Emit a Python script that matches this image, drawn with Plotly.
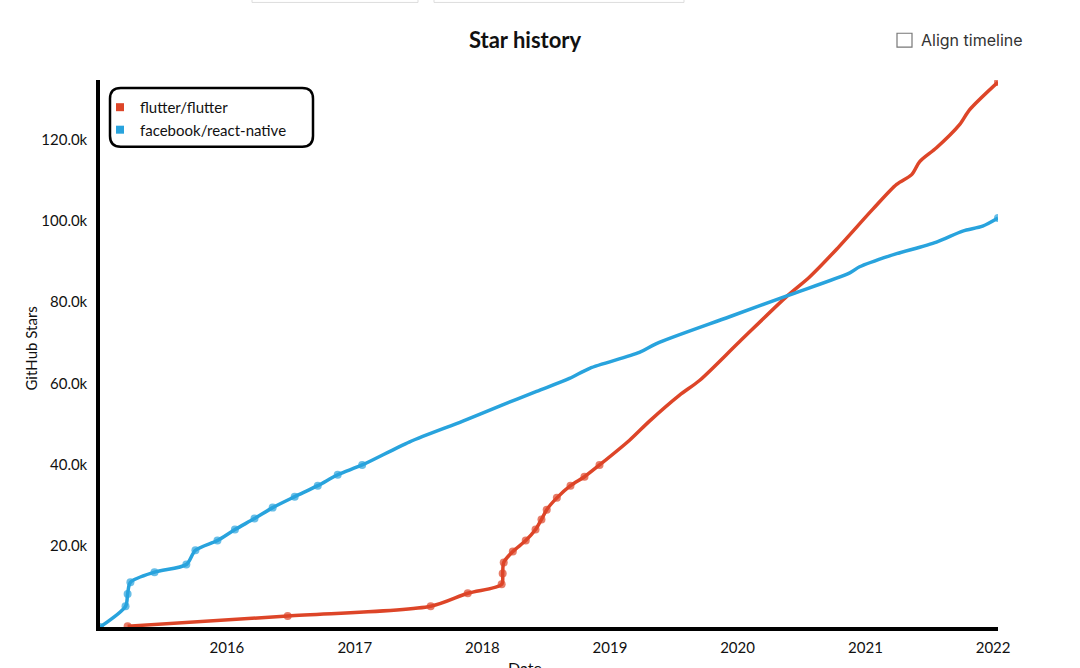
import plotly.graph_objects as go

# ---- data ----
flutter_dates = [
    "2015-03-23", "2016-06-23", "2017-08-06", "2017-11-20", "2018-02-25", "2018-02-28",
    "2018-03-03", "2018-03-29", "2018-05-05", "2018-06-02", "2018-06-19", "2018-07-04",
    "2018-08-02", "2018-09-10", "2018-10-20", "2018-12-02",
    "2019-02-26", "2019-04-24", "2019-07-19", "2019-09-14", "2020-01-07", "2020-05-23",
    "2020-07-25", "2020-10-11", "2021-01-22", "2021-03-31", "2021-05-13", "2021-06-05",
    "2021-07-23", "2021-09-27", "2021-10-26", "2022-01-15",
]
flutter_stars = [
    200, 2700, 5100, 8300, 10500, 13200,
    15900, 18600, 21300, 24000, 26500, 28900,
    31800, 34800, 37000, 39900,
    46000, 50700, 57100, 60700, 70300, 81600,
    86200, 93100, 102900, 109000, 111400, 114600,
    118000, 123700, 127400, 134200,
]

react_native_dates = [
    "2015-01-03", "2015-03-17", "2015-03-23", "2015-03-31", "2015-06-08", "2015-09-07",
    "2015-10-03", "2015-12-05", "2016-01-24", "2016-03-20", "2016-05-11", "2016-07-13",
    "2016-09-17", "2016-11-13", "2017-01-22",
    "2017-06-07", "2017-11-06", "2018-02-19", "2018-06-05", "2018-09-07", "2018-11-04",
    "2019-03-26", "2019-05-14", "2019-12-09", "2020-05-23", "2020-11-17", "2020-12-15",
    "2021-03-11", "2021-07-23", "2021-10-06", "2021-12-02", "2022-01-15",
]
react_native_stars = [
    0, 5100, 8100, 11000, 13500, 15400,
    18900, 21300, 24000, 26700, 29400, 32100,
    34800, 37500, 39900,
    45600, 50700, 54400, 58000, 61200, 63700,
    67600, 69800, 76400, 81600, 87200, 88700,
    91400, 94800, 97500, 98700, 100700,
]

repo_names = ["flutter/flutter", "facebook/react-native"]
repo_colors = ["#dd4528", "#28a3dd"]
x_tick_vals = ["2016-01-01", "2017-01-01", "2018-01-01", "2019-01-01",
               "2020-01-01", "2021-01-01", "2022-01-01"]
x_tick_text = ["2016", "2017", "2018", "2019", "2020", "2021", "2022"]
y_tick_vals = [20000, 40000, 60000, 80000, 100000, 120000]
y_tick_text = ["20.0k", "40.0k", "60.0k", "80.0k", "100.0k", "120.0k"]
y_max = 134700
API_LIMIT = 40000  # GitHub only lists the first 40k stargazers -> sampled dots

FONT = "Lato"
series = [(flutter_dates, flutter_stars), (react_native_dates, react_native_stars)]

fig = go.Figure()
for (dates, stars), name, color in zip(series, repo_names, repo_colors):
    sizes = [8 if (s <= API_LIMIT or i == len(stars) - 1) else 0 for i, s in enumerate(stars)]
    fig.add_trace(go.Scatter(
        x=dates, y=stars, mode="lines+markers", name=name, showlegend=False,
        line=dict(color=color, width=3.5, shape="spline", smoothing=0.8),
        marker=dict(color=color, size=sizes, line=dict(width=0)),
    ))
    # legend entry (square swatch, as in the reference)
    fig.add_trace(go.Scatter(
        x=[None], y=[None], mode="markers", name=name,
        marker=dict(color=color, symbol="square", size=8),
    ))

all_dates = flutter_dates + react_native_dates
L, R, T, B = 100, 82, 80, 38
W, H = 1080, 668
pw, ph = W - L - R, H - T - B


def px(xp):
    return (xp - L) / pw


def py(yp):
    return (H - B - yp) / ph


fig.update_layout(
    width=W, height=H,
    margin=dict(l=L, r=R, t=T, b=B),
    plot_bgcolor="white", paper_bgcolor="white",
    font=dict(family=FONT, size=15, color="#111"),
    title=dict(text="Star history", x=px(525), xref="paper", xanchor="center",
               y=1 - 40 / H, yanchor="middle",
               font=dict(family=FONT, size=22, color="#111", weight="bold")),
    xaxis=dict(
        range=[min(all_dates), max(all_dates)],
        tickvals=x_tick_vals, ticktext=x_tick_text,
        showgrid=False, zeroline=False, showline=True, linecolor="black", linewidth=3.5,
        ticks="", ticklabelstandoff=4,
        tickfont=dict(family=FONT, size=15, color="#111"),
    ),
    yaxis=dict(
        range=[0, y_max],
        tickvals=y_tick_vals, ticktext=y_tick_text,
        showgrid=False, zeroline=False, showline=True, linecolor="black", linewidth=3.5,
        ticks="", ticklabelstandoff=6,
        tickfont=dict(family=FONT, size=15, color="#111"),
    ),
    legend=dict(
        x=px(100), y=py(91), xanchor="left", yanchor="top",
        bgcolor="rgba(0,0,0,0)", borderwidth=0,
        font=dict(family=FONT, size=15, color="#111"),
        tracegroupgap=0, itemwidth=30,
    ),
    showlegend=True,
)

# legend frame with rounded corners
x0, x1, y0, y1, r = px(110), px(313), py(147), py(88), 0.012
ry = r * pw / ph
fig.add_shape(type="path", xref="paper", yref="paper",
              path=(f"M {x0+r},{y1} L {x1-r},{y1} Q {x1},{y1} {x1},{y1-ry} "
                    f"L {x1},{y0+ry} Q {x1},{y0} {x1-r},{y0} L {x0+r},{y0} "
                    f"Q {x0},{y0} {x0},{y0+ry} L {x0},{y1-ry} Q {x0},{y1} {x0+r},{y1} Z"),
              line=dict(color="black", width=2.5), fillcolor="rgba(255,255,255,0)")

# axis titles
fig.add_annotation(text="GitHub Stars", xref="paper", yref="paper", x=px(31), y=py(350),
                   xanchor="center", yanchor="middle",
                   textangle=-90, showarrow=False, font=dict(family=FONT, size=15, color="#111"))
fig.add_annotation(text="Date", xref="paper", yref="paper", x=px(525), y=py(671),
                   xanchor="center", yanchor="middle",
                   showarrow=False, font=dict(family=FONT, size=16, color="#111"))

# "Align timeline" checkbox
fig.add_shape(type="rect", xref="paper", yref="paper", x0=px(897), x1=px(912),
              y0=py(47), y1=py(33), line=dict(color="#777", width=1.2), fillcolor="white")
fig.add_annotation(text="Align timeline", xref="paper", yref="paper", x=px(919), y=py(40),
                   xanchor="left", yanchor="middle", showarrow=False,
                   font=dict(family="Inter", size=16, color="#333"))

# partially visible controls at the very top
for a, b in [(252, 418), (434, 684)]:
    fig.add_shape(type="rect", xref="paper", yref="paper", x0=px(a), x1=px(b),
                  y0=py(2), y1=py(-12), line=dict(color="#ddd", width=1), fillcolor="white")

fig.write_html("out.html", config={"displayModeBar": False},
               post_script="document.body.style.margin='0';")
